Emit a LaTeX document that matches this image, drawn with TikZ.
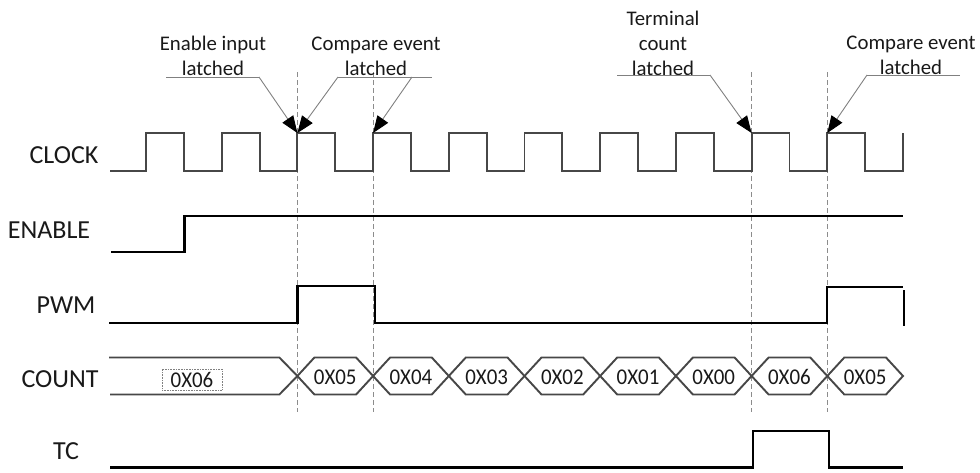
\documentclass[tikz,border=0pt]{standalone}
\usepackage{fontspec}
\setmainfont{Carlito}
\usetikzlibrary{arrows.meta}
\newcommand{\narrowtxt}[1]{\scalebox{0.93}[1]{#1}}
\begin{document}
\begin{tikzpicture}[x=1pt,y=-1pt,
  sig/.style={line width=2.3pt, draw=black, line join=miter},
  clk/.style={line width=1.9pt, draw=black!72, line join=miter},
  bus/.style={line width=1.9pt, draw=black!72, line join=miter},
  guide/.style={draw=black!45, line width=0.8pt, dash pattern=on 5pt off 3pt},
  lead/.style={draw=black!50, line width=0.9pt},
  pointer/.style={lead, -{Triangle[length=17pt,width=13pt,color=black]}},
  signame/.style={font=\fontsize{26}{30}\selectfont, inner sep=0pt, text=black!90},
  note/.style={font=\fontsize{20.8}{25}\selectfont, align=center, inner sep=0pt, text=black!90},
  val/.style={font=\fontsize{22.5}{26}\selectfont, inner sep=0pt, text=black!90}
]
\useasboundingbox (0,0) rectangle (980,472);

% signal names
\node[signame] (nclk) at (64,155) {CLOCK};
\node[signame] (nen) at (49,230) {ENABLE};
\node[signame] (npwm) at (66,305) {PWM};
\node[signame] (ncnt) at (60,379) {COUNT};
\node[signame] (ntc) at (66,451) {TC};

% dashed guides
\foreach \x in {297.4,373.1,751.6,827.3}
  \draw[guide] (\x,72) -- (\x,412);

% clock
\draw[clk] (110,171) foreach \k in {0,...,9} {
   -- ({146+75.7*\k},171) -- ({146+75.7*\k},133)
   -- ({183.85+75.7*\k},133) -- ({183.85+75.7*\k},171) }
   -- (903,171) -- (903,133);

% edge points
\coordinate (e2) at (297.4,133);
\coordinate (e3) at (373.1,133);
\coordinate (e8) at (751.6,133);
\coordinate (e9) at (827.3,133);

% enable
\draw[sig] (111,252) -- (184.4,252) -- (184.4,216) -- (903,216);

% pwm
\draw[sig] (109,323) -- (297.4,323) -- (297.4,286) -- (375,286) -- (375,323)
  -- (827.3,323) -- (827.3,287) -- (903,287);
\draw[sig] (904,290) -- (904,326);

% count bus
\draw[bus] (109,357.5) -- (279.4,357.5) -- (297.4,376) -- (279.4,394.5) -- (110,394.5);
\node[val, draw=black!50, densely dotted, line width=0.6pt, minimum width=60pt, minimum height=21pt] (v0) at (192,379.5) {\narrowtxt{0X06}};
\foreach \k/\t in {2/0X05,3/0X04,4/0X03,5/0X02,6/0X01,7/0X00,8/0X06,9/0X05}{
  \pgfmathsetmacro{\a}{146+75.7*\k}
  \pgfmathsetmacro{\b}{146+75.7*(\k+1)}
  \draw[bus] (\a,376) -- (\a+17,357.5) -- (\b-17,357.5) -- (\b,376) -- (\b-17,394.5) -- (\a+17,394.5) -- cycle;
  \node[val] (v\k) at ({(\a+\b)/2},377) {\narrowtxt{\t}};
}

% tc
\draw[sig] (110,467.5) -- (753,467.5) -- (753,431) -- (829,431) -- (829,467.5) -- (903,467.5);

% annotations
\node[note] (n1) at (213,56) {Enable input\\latched};
\coordinate (n1l) at (166,77); \coordinate (n1r) at (259,77);
\draw[lead] (n1l) -- (n1r);
\draw[pointer] (n1r) -- (e2);

\node[note] (n2) at (376,56) {Compare event\\latched};
\coordinate (n2l) at (338,77); \coordinate (n2r) at (432,77); \coordinate (n2m) at (412,77);
\draw[lead] (n2l) -- (n2r);
\draw[pointer] (n2l) -- (e2);
\draw[pointer] (n2m) -- (e3);

\node[note] (n3) at (663,43) {Terminal\\count\\latched};
\coordinate (n3l) at (617,75); \coordinate (n3r) at (710,75);
\draw[lead] (n3l) -- (n3r);
\draw[pointer] (n3r) -- (e8);

\node[note] (n4) at (911,55) {Compare event\\latched};
\coordinate (n4l) at (867,75); \coordinate (n4r) at (960,75);
\draw[lead] (n4l) -- (n4r);
\draw[pointer] (n4l) -- (e9);
\end{tikzpicture}
\end{document}
